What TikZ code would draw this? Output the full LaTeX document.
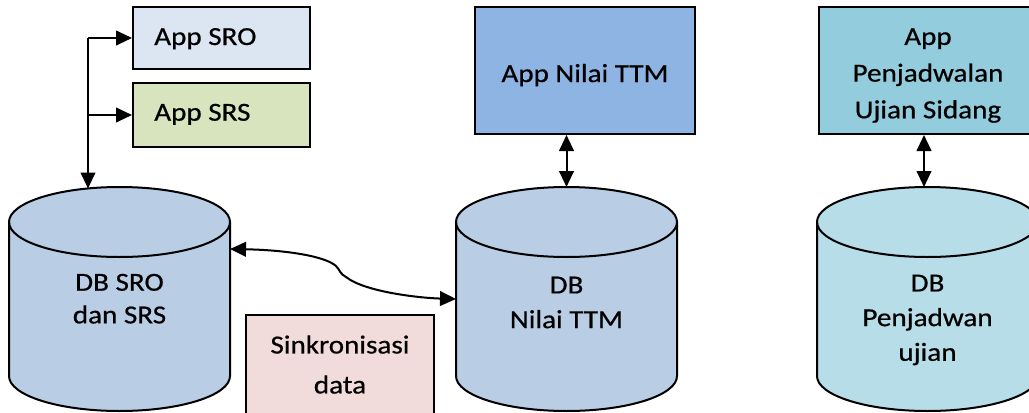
\documentclass[tikz,border=0pt]{standalone}
\usepackage{fontspec}
\setmainfont{Carlito}[FakeStretch=1.12, FakeBold=0.6]
\usetikzlibrary{arrows.meta}
\definecolor{sroc}{HTML}{DCE6F2}
\definecolor{srsc}{HTML}{D7E4BD}
\definecolor{ttmc}{HTML}{8EB4E3}
\definecolor{penjc}{HTML}{93CDDD}
\definecolor{dbbluec}{HTML}{B9CDE5}
\definecolor{dbtealc}{HTML}{B7DEE8}
\definecolor{pinkc}{HTML}{F2DCDB}
\tikzset{
  box/.style={draw=black, line width=1.5pt, inner sep=0pt},
  lbl/.style={inner sep=0pt, font=\fontsize{19.5}{24}\selectfont, align=center},
  cylline/.style={draw=black, line width=1.5pt},
  arr/.style={line width=1.5pt, -{Triangle[length=12pt,width=11pt]}},
  darr/.style={line width=1.5pt, {Triangle[length=12pt,width=11pt]}-{Triangle[length=12pt,width=11pt]}}
}
\newcommand\dbcyl[3]{%
  \path[cylline, fill=#3] (#1,190) -- (#1,36)
    arc[start angle=180, end angle=360, x radius=110.5, y radius=35]
    -- (#2,190)
    arc[start angle=0, end angle=180, x radius=110.5, y radius=35] -- cycle;
  \draw[cylline] (#1,190) arc[start angle=180, end angle=360, x radius=110.5, y radius=35];
}
\begin{document}
\begin{tikzpicture}[x=0.75pt, y=0.75pt]
\useasboundingbox (0,0) rectangle (1029,412);
\clip (0,0) rectangle (1029,412);

% boxes
\node[box, fill=sroc, minimum width=132.75pt, minimum height=46.5pt] (sro) at (221.5,374) {};
\node[box, fill=srsc, minimum width=132.75pt, minimum height=48pt] (srs) at (221.5,297) {};
\node[box, fill=ttmc, minimum width=165pt, minimum height=95.25pt] (ttm) at (585,341.5) {};
\node[box, fill=penjc, minimum width=163.5pt, minimum height=95.25pt] (penj) at (928,341.5) {};
\node[box, fill=pinkc, minimum width=141pt, minimum height=86.25pt] (sync) at (340,39.5) {};

\node[lbl, anchor=base west] (srot) at (154,367) {App SRO};
\node[lbl, anchor=base west] (srst) at (154,291.3) {App SRS};
\node[lbl, anchor=base] (ttmt) at (585,330) {App Nilai TTM};
\node[lbl, font=\fontsize{19.5}{27.5}\selectfont] (penjt) at (928,336.5) {App\\Penjadwalan\\Ujian Sidang};
\node[lbl, font=\fontsize{19.5}{30}\selectfont] (synct) at (340,47.5) {Sinkronisasi\\data};

% cylinders
\dbcyl{9}{230}{dbbluec}
\dbcyl{456}{677}{dbbluec}
\dbcyl{817}{1038}{dbtealc}

\node[lbl, font=\fontsize{19.5}{24.5}\selectfont] (db1) at (119.5,113.3) {DB SRO\\dan SRS};
\node[lbl, font=\fontsize{19.5}{26}\selectfont] (db2) at (566.5,109.5) {DB\\Nilai TTM};
\node[lbl, font=\fontsize{19.5}{26}\selectfont] (db3) at (927.5,92) {DB\\Penjadwan\\ujian};

% connector end points on the cylinders
\coordinate (c1top) at (88,223.5);
\coordinate (c2top) at (566.5,225);
\coordinate (c3top) at (924,225);
\coordinate (c1side) at (230,163);
\coordinate (c2side) at (456,113);
\coordinate (j1) at (88,374);

% connectors
\draw[arr] (j1) -- (sro.west);
\draw[arr] (j1 |- srs.west) -- (srs.west);
\draw[arr] (j1) -- (c1top);
\draw[darr] (c2top |- ttm.south) -- (c2top);
\draw[darr] (c3top |- penj.south) -- (c3top);
\draw[darr] (c1side) .. controls (285,162) and (325,156) .. (336,146)
  .. controls (340,142) and (340,138) .. (346,135)
  .. controls (365,120) and (420,114) .. (c2side);
\end{tikzpicture}
\end{document}
